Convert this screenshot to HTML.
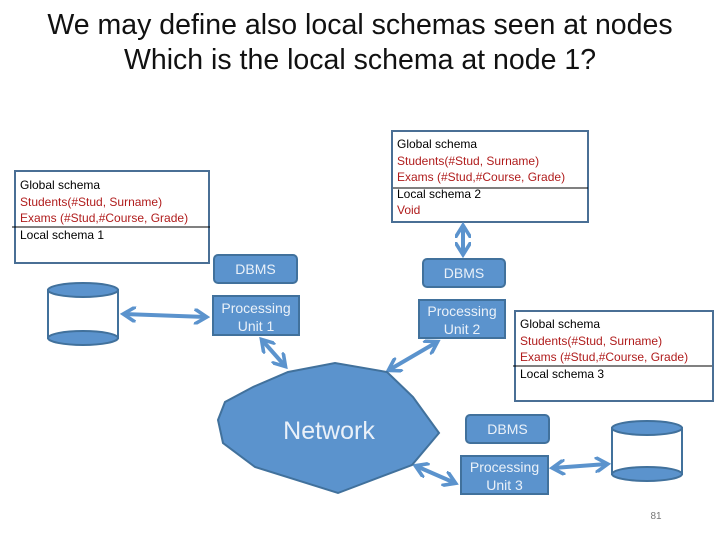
<!DOCTYPE html>
<html><head><style>
body{margin:0;width:720px;height:540px;background:#fff;position:relative;font-family:"Liberation Sans",sans-serif;overflow:hidden}
.t{position:absolute;left:0;width:720px;text-align:center;font-size:28.5px;color:#111}
.box{position:absolute;border:2px solid #4a6f95;background:#fff;font-size:12px;line-height:16.5px;padding-left:4px;box-sizing:border-box}
.r{color:#b01c1c}
.b{position:absolute;background:#5b93cd;border:2px solid #41719c;color:#eaf1f9;text-align:center;font-size:14px;box-sizing:border-box}
</style></head><body>
<div class="t" style="top:9px">We may define also local schemas seen at nodes</div>
<div class="t" style="top:44px">Which is the local schema at node 1?</div>

<div class="box" style="left:14px;top:170px;width:196px;height:94px;padding-top:5px">Global schema<br><span class="r">Students(#Stud, Surname)<br>Exams (#Stud,#Course, Grade)</span><br>Local schema 1</div>
<div class="box" style="left:391px;top:130px;width:198px;height:93px;padding-top:4px">Global schema<br><span class="r">Students(#Stud, Surname)<br>Exams (#Stud,#Course, Grade)</span><br>Local schema 2<br><span class="r">Void</span></div>
<div class="box" style="left:514px;top:310px;width:200px;height:92px;padding-top:4px">Global schema<br><span class="r">Students(#Stud, Surname)<br>Exams (#Stud,#Course, Grade)</span><br>Local schema 3</div>

<svg style="position:absolute;left:0;top:0" width="720" height="540">
<line x1="12" y1="227" x2="210" y2="227" stroke="#000" stroke-width="1"/>
<line x1="393" y1="188" x2="588" y2="188" stroke="#000" stroke-width="1"/>
<line x1="513" y1="366" x2="712" y2="366" stroke="#000" stroke-width="1"/>
<defs><marker id="a" markerWidth="4" markerHeight="4" refX="3" refY="2" orient="auto-start-reverse" markerUnits="strokeWidth"><path d="M0,0 L3.2,2 L0,4" fill="none" stroke="#5b93cd" stroke-width="0.9"/></marker></defs>
<g stroke="#5b93cd" stroke-width="4" marker-start="url(#a)" marker-end="url(#a)">
<line x1="124" y1="314" x2="206" y2="317"/>
<line x1="262" y1="340" x2="285" y2="366"/>
<line x1="437" y1="342" x2="389" y2="370"/>
<line x1="416" y1="466" x2="455" y2="483"/>
<line x1="553" y1="468" x2="607" y2="464"/>
<line x1="463" y1="226" x2="463" y2="254"/>
</g>
<polygon points="288,372 335,363 387,372 413,397 439,433 412,465 338,493 255,467 223,443 218,420 225,402 253,387" fill="#5b93cd" stroke="#41719c" stroke-width="2"/>
<text x="329" y="439" font-size="25" fill="#eaf1f9" text-anchor="middle" font-family="Liberation Sans, sans-serif">Network</text>
<g stroke="#41719c" stroke-width="2">
<rect x="48" y="290" width="70" height="48" fill="#fff"/>
<ellipse cx="83" cy="290" rx="35" ry="7" fill="#5b93cd"/>
<ellipse cx="83" cy="338" rx="35" ry="7" fill="#5b93cd"/>
<rect x="612" y="428" width="70" height="46" fill="#fff"/>
<ellipse cx="647" cy="428" rx="35" ry="7" fill="#5b93cd"/>
<ellipse cx="647" cy="474" rx="35" ry="7" fill="#5b93cd"/>
</g>
<text x="656" y="519" font-size="10" fill="#777" text-anchor="middle" font-family="Liberation Sans, sans-serif">81</text>
</svg>

<div class="b" style="left:213px;top:254px;width:85px;height:30px;line-height:26px;border-radius:5px">DBMS</div>
<div class="b" style="left:212px;top:295px;width:88px;height:41px;line-height:18px;padding-top:2px">Processing<br>Unit 1</div>
<div class="b" style="left:422px;top:258px;width:84px;height:30px;line-height:26px;border-radius:5px">DBMS</div>
<div class="b" style="left:418px;top:299px;width:88px;height:40px;line-height:18px;padding-top:1px">Processing<br>Unit 2</div>
<div class="b" style="left:465px;top:414px;width:85px;height:30px;line-height:26px;border-radius:5px">DBMS</div>
<div class="b" style="left:460px;top:455px;width:89px;height:40px;line-height:18px;padding-top:1px">Processing<br>Unit 3</div>
</body></html>
